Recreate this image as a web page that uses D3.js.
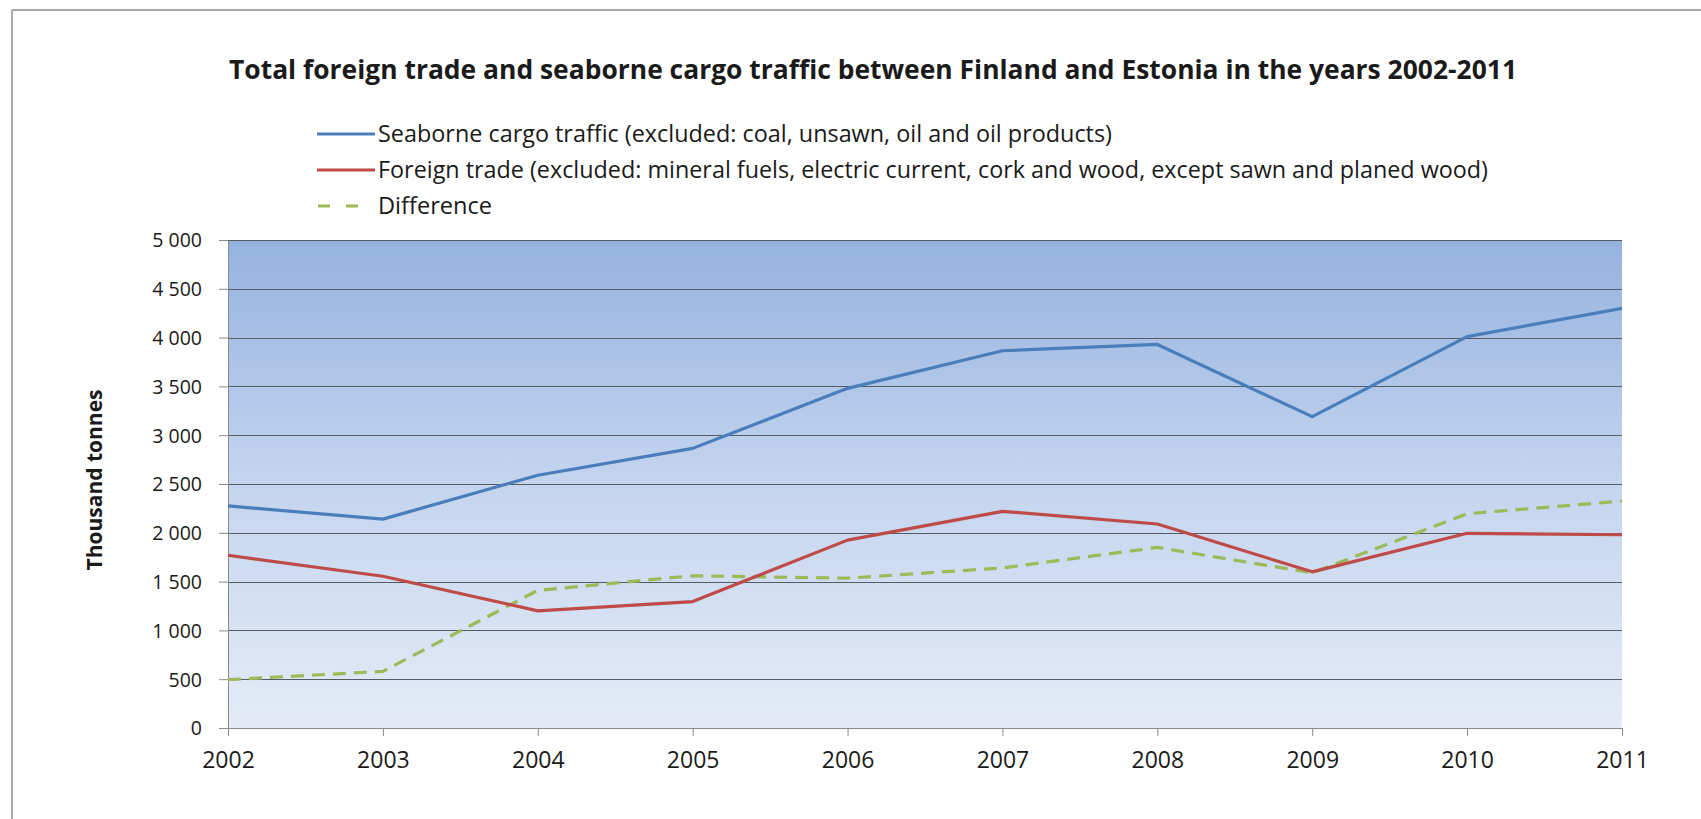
<!DOCTYPE html>
<html>
<head>
<meta charset="utf-8">
<script src="https://cdn.jsdelivr.net/npm/d3@7"></script>
<style>
html,body{margin:0;padding:0;background:#fff;}
svg{display:block;}
text{font-family:"Liberation Sans Narrow","Open Sans","DejaVu Sans Condensed",sans-serif;fill:#1a1a1a;}
</style>
</head>
<body>
<svg id="chart" width="1701" height="819"></svg>
<script>
const title = "Total foreign trade and seaborne cargo traffic between Finland and Estonia in the years 2002-2011";
const yAxisTitle = "Thousand tonnes";
const years = ["2002","2003","2004","2005","2006","2007","2008","2009","2010","2011"];
const seaborne = [2275, 2140, 2590, 2865, 3480, 3865, 3930, 3190, 4010, 4300];
const foreignTrade = [1770, 1555, 1200, 1295, 1925, 2220, 2090, 1600, 1995, 1980];
const difference = [495, 580, 1410, 1560, 1535, 1640, 1850, 1590, 2195, 2325];
const yTicks = [0, 500, 1000, 1500, 2000, 2500, 3000, 3500, 4000, 4500, 5000];
const seriesNames = [
  "Seaborne cargo traffic (excluded: coal, unsawn, oil and oil products)",
  "Foreign trade (excluded: mineral fuels, electric current, cork and wood, except sawn and planed wood)",
  "Difference"
];

const svg = d3.select("#chart");
const W = 1701, H = 819;
const plot = {left: 228, right: 1622, top: 240, bottom: 728};

// frame
svg.append("line").attr("x1",12).attr("x2",W).attr("y1",10).attr("y2",10)
  .attr("stroke","#a8a8a8").attr("stroke-width",2);
svg.append("line").attr("x1",12).attr("x2",12).attr("y1",10).attr("y2",H)
  .attr("stroke","#a8a8a8").attr("stroke-width",2);

// gradient
const defs = svg.append("defs");
const grad = defs.append("linearGradient").attr("id","bg").attr("x1",0).attr("y1",0).attr("x2",0).attr("y2",1);
grad.append("stop").attr("offset","0%").attr("stop-color","#95b2df");
grad.append("stop").attr("offset","50%").attr("stop-color","#c4d5ef");
grad.append("stop").attr("offset","100%").attr("stop-color","#e4ebf6");

const x = d3.scalePoint().domain(years).range([plot.left, plot.right]);
const y = d3.scaleLinear().domain([0, 5000]).range([plot.bottom, plot.top]);

svg.append("rect").attr("x",plot.left).attr("y",plot.top)
  .attr("width",plot.right-plot.left).attr("height",plot.bottom-plot.top)
  .attr("fill","url(#bg)");

// gridlines
svg.append("g").selectAll("line").data(yTicks.filter(d=>d>0)).join("line")
  .attr("x1",plot.left).attr("x2",plot.right)
  .attr("y1",d=>Math.round(y(d))+0.5).attr("y2",d=>Math.round(y(d))+0.5)
  .attr("stroke","#575c64").attr("stroke-width",1);

const loc = d3.formatLocale({decimal:",", thousands:"\u2009", grouping:[3], currency:["",""]});
const fmt = v => loc.format(",d")(v).replace("\u2009"," ");

// y axis
const yAxis = d3.axisLeft(y).tickValues(yTicks).tickSize(9).tickSizeOuter(0).tickPadding(17).tickFormat(fmt);
const gy = svg.append("g").attr("transform",`translate(${plot.left},0)`).call(yAxis);
gy.select(".domain").attr("stroke","#8a8a8a");
gy.selectAll(".tick line").attr("stroke","#8a8a8a");
gy.selectAll(".tick text").attr("font-size",19.5).attr("fill","#222")
  .style("font-family",'"Open Sans",sans-serif').attr("dy","0.35em");

// x axis
const xAxis = d3.axisBottom(x).tickSize(8).tickSizeOuter(0).tickPadding(16);
const gx = svg.append("g").attr("transform",`translate(0,${plot.bottom})`).call(xAxis);
gx.select(".domain").attr("stroke","#8a8a8a");
gx.selectAll(".tick line").attr("stroke","#8a8a8a");
gx.selectAll(".tick text").attr("font-size",23).attr("fill","#222")
  .style("font-family",'"Open Sans",sans-serif');

// lines
const line = d3.line().x((d,i)=>x(years[i])).y(d=>y(d));
svg.append("path").datum(difference).attr("d",line).attr("fill","none")
  .attr("stroke","#9bbb59").attr("stroke-width",3.2).attr("stroke-dasharray","13,8");
svg.append("path").datum(seaborne).attr("d",line).attr("fill","none")
  .attr("stroke","#4a7ebb").attr("stroke-width",3.2).attr("stroke-linejoin","round");
svg.append("path").datum(foreignTrade).attr("d",line).attr("fill","none")
  .attr("stroke","#be4b48").attr("stroke-width",3.2).attr("stroke-linejoin","round");

// title
svg.append("text").attr("x",229).attr("y",79).attr("font-size",27).attr("font-weight","bold")
  .attr("textLength",1288).attr("lengthAdjust","spacingAndGlyphs").text(title);

// legend
const legColors = ["#4a7ebb","#be4b48","#9bbb59"];
const legY = [134, 170, 206];
const legLens = [734, 1110, 114];
const lg = svg.append("g");
seriesNames.forEach((name,i)=>{
  const l = lg.append("line").attr("x1",317).attr("x2",i===2?358:375)
    .attr("y1",legY[i]).attr("y2",legY[i]).attr("stroke",legColors[i]).attr("stroke-width",3.2);
  if(i===2) l.attr("stroke-dasharray","12,16").attr("x1",318);
  lg.append("text").attr("x",378).attr("y",legY[i]).attr("dy","0.35em").attr("font-size",23)
    .attr("textLength",legLens[i]).attr("lengthAdjust","spacingAndGlyphs").text(name);
});

// y axis title
svg.append("text").attr("transform","translate(95,480) rotate(-90)").attr("text-anchor","middle")
  .attr("dy","0.35em").attr("font-size",21).attr("font-weight","bold")
  .style("font-family",'"Open Sans",sans-serif').text(yAxisTitle);
</script>
</body>
</html>
